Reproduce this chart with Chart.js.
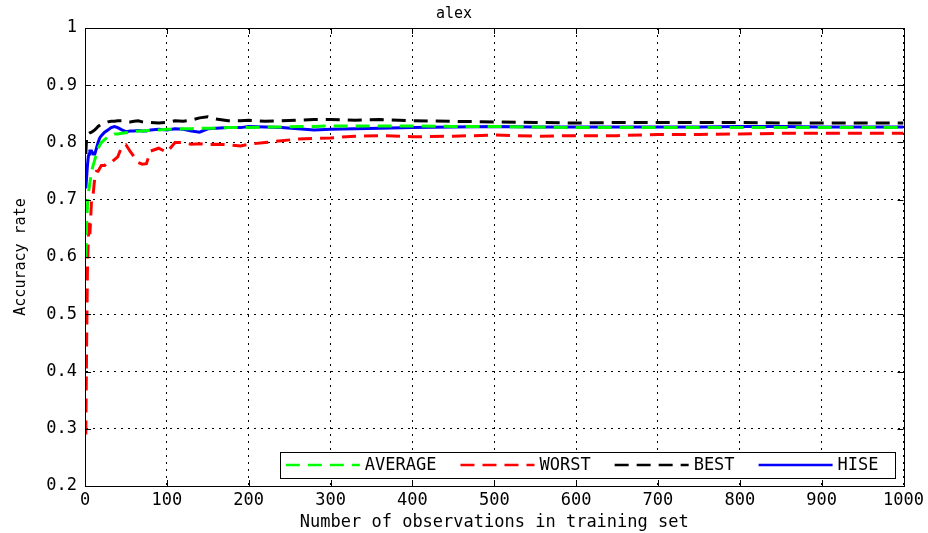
<!DOCTYPE html>
<html>
<head>
<meta charset="utf-8">
<script src="https://cdn.jsdelivr.net/npm/chart.js@4/dist/chart.umd.min.js"></script>
<style>
  html, body { margin: 0; padding: 0; background: #fff; }
  #wrap { width: 928px; height: 533px; }
</style>
</head>
<body>
<div id="wrap"><canvas id="accChart" width="928" height="533"></canvas></div>
<script>
// training set sizes where the accuracy was sampled
const obs = [1, 2, 3, 4, 5, 6, 8, 10, 12, 14, 16, 18, 20, 24, 28, 32, 36, 40, 45, 50,
    55, 60, 65, 70, 75, 80, 90, 100, 110, 120, 130, 140, 150, 160, 175, 190, 200, 220,
    240, 260, 280, 300, 330, 360, 400, 450, 500, 550, 600, 650, 700, 750, 800, 850,
    900, 950, 1000];

const average = [0.60, 0.66, 0.69, 0.71, 0.72, 0.73, 0.75, 0.76, 0.77, 0.78, 0.79, 0.795,
    0.80, 0.805, 0.81, 0.812, 0.815, 0.815, 0.816, 0.817, 0.818, 0.819, 0.82, 0.82, 0.821,
    0.821, 0.822, 0.823, 0.823, 0.824, 0.824, 0.825, 0.825, 0.825, 0.826, 0.826, 0.826,
    0.827, 0.827, 0.828, 0.828, 0.829, 0.829, 0.829, 0.829, 0.828, 0.828, 0.827, 0.826,
    0.826, 0.826, 0.826, 0.826, 0.826, 0.826, 0.826, 0.826];

const worst = [0.29, 0.45, 0.58, 0.63, 0.66, 0.64, 0.70, 0.71, 0.74, 0.75, 0.75, 0.755,
    0.76, 0.76, 0.765, 0.765, 0.77, 0.775, 0.793, 0.796, 0.785, 0.775, 0.765, 0.762, 0.763,
    0.785, 0.79, 0.783, 0.80, 0.80, 0.797, 0.798, 0.796, 0.797, 0.796, 0.794, 0.797, 0.80,
    0.803, 0.806, 0.807, 0.808, 0.811, 0.812, 0.81, 0.811, 0.813, 0.811, 0.812, 0.812,
    0.814, 0.814, 0.815, 0.816, 0.816, 0.816, 0.816];

const best = [0.78, 0.81, 0.815, 0.815, 0.816, 0.817, 0.818, 0.82, 0.822, 0.825, 0.828,
    0.83, 0.832, 0.834, 0.836, 0.837, 0.837, 0.838, 0.838, 0.836, 0.836, 0.837, 0.838,
    0.836, 0.835, 0.835, 0.834, 0.835, 0.838, 0.837, 0.839, 0.843, 0.845, 0.841, 0.838,
    0.838, 0.839, 0.837, 0.838, 0.839, 0.84, 0.84, 0.839, 0.84, 0.838, 0.837, 0.836,
    0.835, 0.834, 0.835, 0.835, 0.835, 0.835, 0.834, 0.834, 0.834, 0.834];

const hise = [0.72, 0.74, 0.76, 0.775, 0.78, 0.785, 0.785, 0.78, 0.78, 0.79, 0.80, 0.808,
    0.812, 0.818, 0.822, 0.826, 0.828, 0.826, 0.822, 0.819, 0.82, 0.82, 0.821, 0.82, 0.82,
    0.822, 0.823, 0.822, 0.824, 0.823, 0.82, 0.818, 0.824, 0.825, 0.826, 0.826, 0.828,
    0.827, 0.826, 0.824, 0.822, 0.823, 0.824, 0.825, 0.826, 0.827, 0.828, 0.827, 0.827,
    0.827, 0.827, 0.827, 0.828, 0.828, 0.827, 0.827, 0.827];

const FONT = "'DejaVu Sans Mono', monospace";

function toPoints(values) {
    return obs.map((x, i) => ({ x: x, y: values[i] }));
}

// tick marks pointing inwards on all four sides of the box
const innerTicks = {
    id: 'innerTicks',
    afterDraw(chart) {
        const ctx = chart.ctx;
        const a = chart.chartArea;
        const len = 6;
        ctx.save();
        ctx.strokeStyle = '#000';
        ctx.lineWidth = 1;
        ctx.beginPath();
        chart.scales.x.ticks.forEach(t => {
            const px = Math.round(chart.scales.x.getPixelForValue(t.value)) + 0.5;
            ctx.moveTo(px, a.bottom); ctx.lineTo(px, a.bottom - len);
            ctx.moveTo(px, a.top); ctx.lineTo(px, a.top + len);
        });
        chart.scales.y.ticks.forEach(t => {
            const py = Math.round(chart.scales.y.getPixelForValue(t.value)) + 0.5;
            ctx.moveTo(a.left, py); ctx.lineTo(a.left + len, py);
            ctx.moveTo(a.right, py); ctx.lineTo(a.right - len, py);
        });
        ctx.stroke();
        ctx.restore();
    }
};

// boxed legend in the lower right corner of the plot
const boxLegend = {
    id: 'boxLegend',
    afterDraw(chart) {
        const ctx = chart.ctx;
        const a = chart.chartArea;
        const sample = 74, gapText = 5, padL = 6, padR = 16, gapEntry = 24;
        ctx.save();
        ctx.font = '17px ' + FONT;
        const items = chart.data.datasets.map(ds => ({
            ds: ds, w: ctx.measureText(ds.label).width
        }));
        let total = padL + padR + gapEntry * (items.length - 1);
        items.forEach(it => { total += sample + gapText + it.w; });
        const h = 26;
        const right = a.right - 9, bottom = a.bottom - 8;
        const left = right - total, top = bottom - h;
        ctx.fillStyle = '#fff';
        ctx.fillRect(left, top, total, h);
        ctx.strokeStyle = '#000';
        ctx.lineWidth = 1;
        ctx.strokeRect(Math.round(left) + 0.5, top + 0.5, Math.round(total), h);
        let x = left + padL;
        const cy = top + h / 2;
        items.forEach(it => {
            ctx.strokeStyle = it.ds.borderColor;
            ctx.lineWidth = 2.5;
            ctx.setLineDash(it.ds.borderDash || []);
            ctx.beginPath();
            ctx.moveTo(x, cy);
            ctx.lineTo(x + sample, cy);
            ctx.stroke();
            ctx.setLineDash([]);
            x += sample + gapText;
            ctx.fillStyle = '#000';
            ctx.textBaseline = 'middle';
            ctx.fillText(it.ds.label, x, cy + 1);
            x += it.w + gapEntry;
        });
        ctx.restore();
    }
};

const ctx = document.getElementById('accChart').getContext('2d');
new Chart(ctx, {
    type: 'line',
    data: {
        datasets: [
            { label: 'AVERAGE', data: toPoints(average), borderColor: '#00ff00', borderDash: [14, 8] },
            { label: 'WORST', data: toPoints(worst), borderColor: '#ff0000', borderDash: [14, 8] },
            { label: 'BEST', data: toPoints(best), borderColor: '#000000', borderDash: [14, 8] },
            { label: 'HISE', data: toPoints(hise), borderColor: '#0000ff' }
        ]
    },
    options: {
        responsive: false,
        animation: false,
        devicePixelRatio: 1,
        datasets: {
            line: { borderWidth: 3, pointRadius: 0, tension: 0, fill: false }
        },
        layout: { padding: { left: 0, right: 20, top: 0, bottom: 0 } },
        plugins: {
            legend: { display: false },
            tooltip: { enabled: false },
            title: {
                display: true,
                text: 'alex',
                color: '#000',
                font: { family: FONT, size: 15, weight: 'normal' },
                padding: { top: 5, bottom: 5 }
            }
        },
        scales: {
            x: {
                type: 'linear',
                min: 0,
                max: 1000,
                afterFit(s) { s.height = 47; },
                ticks: {
                    stepSize: 100,
                    color: '#000',
                    padding: 4,
                    maxRotation: 0,
                    font: { family: FONT, size: 17 },
                    callback: v => String(v)
                },
                grid: { color: '#000', lineWidth: 1, drawTicks: false },
                border: { display: true, color: '#000', width: 1, dash: [2, 5] },
                title: {
                    display: true,
                    text: 'Number of observations in training set',
                    color: '#000',
                    padding: { top: 0, bottom: 0 },
                    font: { family: FONT, size: 17 }
                }
            },
            y: {
                min: 0.2,
                max: 1,
                afterFit(s) { s.width = 85; },
                ticks: {
                    stepSize: 0.1,
                    color: '#000',
                    padding: 8,
                    font: { family: FONT, size: 17 },
                    callback: v => String(+v.toFixed(1))
                },
                grid: { color: '#000', lineWidth: 1, drawTicks: false },
                border: { display: true, color: '#000', width: 1, dash: [2, 5] },
                title: {
                    display: true,
                    text: 'Accuracy rate',
                    color: '#000',
                    padding: { top: 12, bottom: 0 },
                    font: { family: FONT, size: 15 }
                }
            }
        }
    },
    plugins: [innerTicks, boxLegend, {
        // solid frame round the plot area
        id: 'frame',
        afterDraw(chart) {
            const a = chart.chartArea;
            const c = chart.ctx;
            c.save();
            c.strokeStyle = '#000';
            c.lineWidth = 1;
            c.strokeRect(Math.round(a.left) + 0.5, Math.round(a.top) + 0.5,
                Math.round(a.right - a.left), Math.round(a.bottom - a.top));
            c.restore();
        }
    }]
});
</script>
</body>
</html>
